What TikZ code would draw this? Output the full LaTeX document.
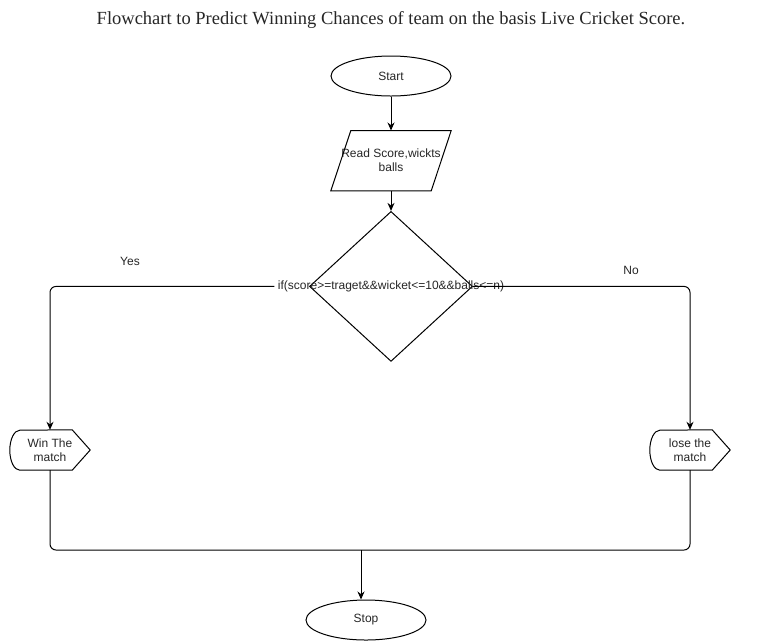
\documentclass[tikz,border=0pt]{standalone}
\usepackage{fontspec}
\setmainfont{Liberation Serif}
\setsansfont{Liberation Sans}
\usepackage{tikz}
\usetikzlibrary{positioning,arrows.meta,shapes.geometric,calc}

\begin{document}
\begin{tikzpicture}[
  x=1pt, y=1pt,
  every node/.style={font=\sffamily\fontsize{12}{14}\selectfont, text=black!85},
  terminal/.style={ellipse, draw, line width=1pt, minimum width=120pt, minimum height=40pt, inner sep=0pt},
  inputbox/.style={minimum width=120pt, minimum height=60pt, inner sep=0pt, align=center},
  decision/.style={diamond, draw, line width=1pt, minimum width=163pt, minimum height=150pt, inner sep=0pt},
  display/.style={minimum width=80pt, minimum height=40pt, inner sep=0pt, align=center},
  outline/.style={line width=1pt},
  flow/.style={line width=1pt, -{Stealth[length=8pt, width=7pt]}},
  link/.style={line width=1pt, rounded corners=6pt}
]
  \useasboundingbox (0,0) rectangle (781,-641);

  % title
  \node[font=\rmfamily\fontsize{18.5}{22}\selectfont] (title) at (391,-20)
        {Flowchart to Predict Winning Chances of team on the basis Live Cricket Score.};

  % main column
  \node[terminal] (start) at (391,-76) {Start};
  \node[inputbox, below=34pt of start] (read) {Read Score,wickts\\balls};
  \draw[outline] ([xshift=20pt]read.north west) -- (read.north east)
    -- ([xshift=-20pt]read.south east) -- (read.south west) -- cycle;
  \node[decision, below=20pt of read] (cond) {};
  \node (condtext) at (cond.center) {if(score>=traget\&\&wicket<=10\&\&balls<=n)};

  % outcomes
  \node[display] (win)  at (50,-450)  {Win The\\match};
  \node[display] (lose) at (690,-450) {lose the\\match};
  \foreach \n in {win,lose}
    \draw[outline] ([xshift=-18pt]\n.north east) -- (\n.east) -- ([xshift=-18pt]\n.south east)
      -- ([xshift=10pt]\n.south west) arc[start angle=270, end angle=90, x radius=10pt, y radius=20pt] -- cycle;

  \node[terminal] (stop) at (366,-620) {Stop};
  \coordinate (merge) at (361,-550);

  % labels
  \node (yes) at (130,-261) {Yes};
  \node (no)  at (631,-270) {No};

  % connectors
  \draw[flow] (start) -- (read);
  \draw[flow] (read) -- (cond);
  \draw[flow, link] (condtext.west) -| (win.north);
  \draw[flow, link] (cond.east) -| (lose.north);
  \draw[link] (win.south) |- (merge) -| (lose.south);
  \draw[flow] (merge) -- (merge |- stop.north);
\end{tikzpicture}
\end{document}
